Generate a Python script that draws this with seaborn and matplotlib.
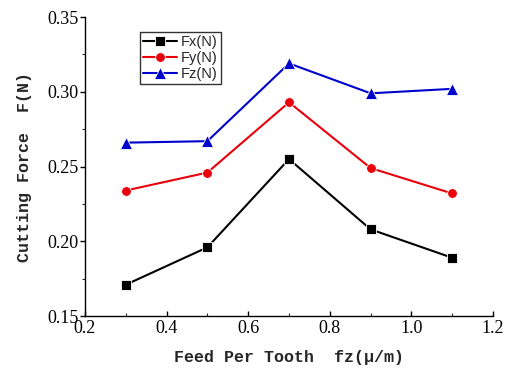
import matplotlib
matplotlib.use("Agg")
import matplotlib.pyplot as plt
from matplotlib.ticker import MultipleLocator, FormatStrFormatter
import seaborn as sns
import pandas as pd

feed = [0.3, 0.5, 0.7, 0.9, 1.1]
fx = [0.171, 0.196, 0.255, 0.208, 0.189]
fy = [0.234, 0.246, 0.293, 0.249, 0.232]
fz = [0.266, 0.267, 0.319, 0.299, 0.302]
series_names = ["Fx(N)", "Fy(N)", "Fz(N)"]

df = pd.DataFrame({
    "feed": feed * 3,
    "force": fx + fy + fz,
    "series": [series_names[0]] * 5 + [series_names[1]] * 5 + [series_names[2]] * 5,
})

sns.set_style("ticks")
plt.rcParams["font.family"] = ["Liberation Serif", "DejaVu Serif"]

fig = plt.figure(figsize=(5.12, 3.71), dpi=100)
ax = fig.add_axes([0.166, 0.148, 0.797, 0.806])

palette = {"Fx(N)": "#000000", "Fy(N)": "#e8000b", "Fz(N)": "#0000cc"}
markers = {"Fx(N)": "s", "Fy(N)": "o", "Fz(N)": "^"}
sns.lineplot(data=df, x="feed", y="force", hue="series", style="series",
             palette=palette, markers=markers, dashes=False, markersize=6.5,
             linewidth=1.5, markeredgewidth=0.6, ax=ax)

# triangles read a little larger than squares and circles
sizes = {"Fx(N)": 6.5, "Fy(N)": 7, "Fz(N)": 8}
for line, name in zip(ax.get_lines(), series_names):
    line.set_markersize(sizes[name])

ax.set_xlim(0.2, 1.2)
ax.set_ylim(0.15, 0.35)
ax.xaxis.set_major_locator(MultipleLocator(0.2))
ax.xaxis.set_minor_locator(MultipleLocator(0.1))
ax.yaxis.set_major_locator(MultipleLocator(0.05))
ax.yaxis.set_minor_locator(MultipleLocator(0.025))
ax.xaxis.set_major_formatter(FormatStrFormatter("%.1f"))
ax.yaxis.set_major_formatter(FormatStrFormatter("%.2f"))
ax.tick_params(axis="x", which="major", direction="in", length=3.5, width=1, labelsize=13, colors="black", pad=3)
ax.tick_params(axis="x", which="minor", direction="in", length=2.5, width=0.8)
ax.tick_params(axis="y", which="major", direction="out", length=3.5, width=1, labelsize=13, colors="black", pad=1)
ax.tick_params(axis="y", which="minor", direction="out", length=2.5, width=0.8)
for s in ["top", "right"]:
    ax.spines[s].set_visible(False)
for s in ["left", "bottom"]:
    ax.spines[s].set_linewidth(1)
    ax.spines[s].set_color("black")

label_font = dict(family=["Liberation Mono", "DejaVu Sans Mono"], fontsize=12, fontweight="bold")
ax.set_xlabel("Feed Per Tooth  fz(μ/m)", labelpad=9, **label_font)
ax.set_ylabel("Cutting Force  F(N)", labelpad=11, **label_font)

leg = ax.legend(loc="upper left", bbox_to_anchor=(0.135, 0.95), frameon=True,
                prop={"family": "Liberation Sans", "size": 10.5},
                handlelength=2.3, handletextpad=0.3, borderpad=0.2,
                labelspacing=0.15, borderaxespad=0, fancybox=False)
leg.get_frame().set_edgecolor("black")
leg.get_frame().set_linewidth(1)
for h, name in zip(leg.legend_handles, series_names):
    h.set_markersize(sizes[name])

fig.savefig("out.png", dpi=100)
